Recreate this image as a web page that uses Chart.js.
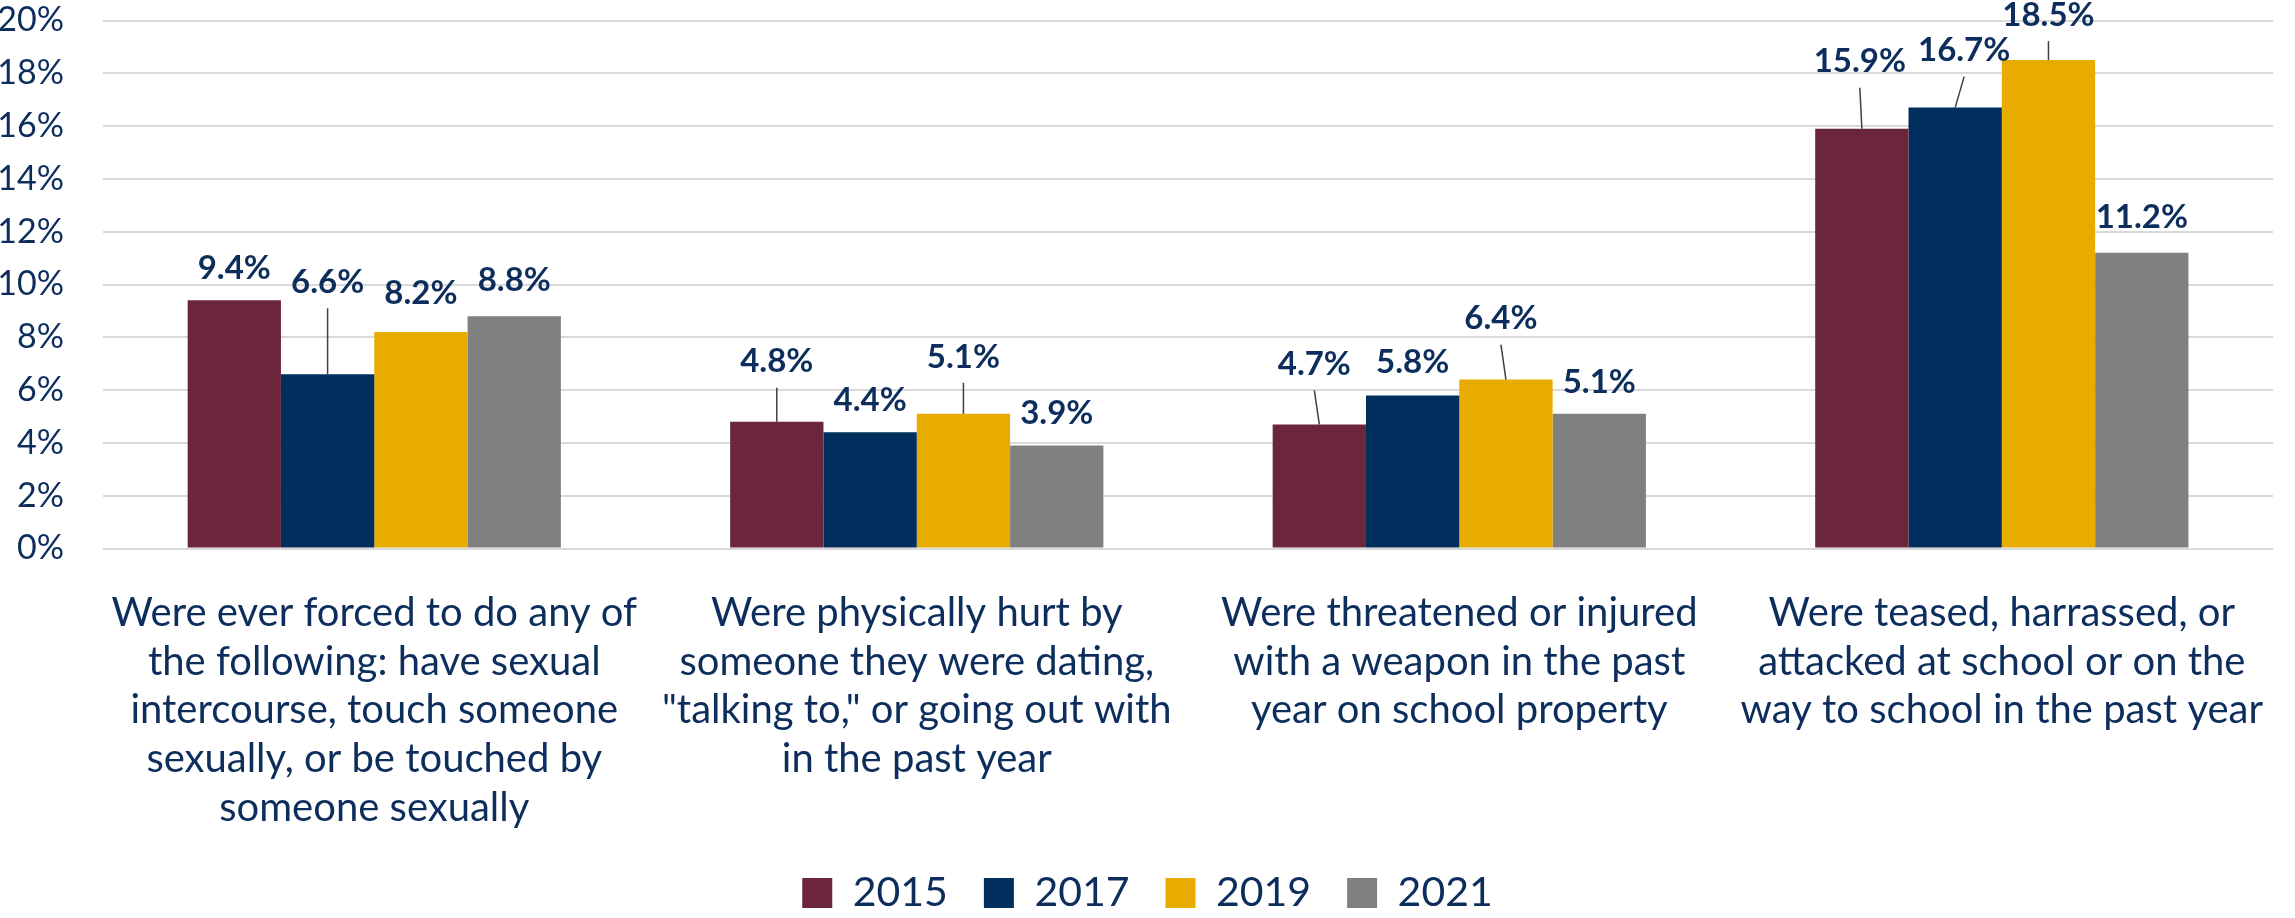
<!DOCTYPE html>
<html>
<head>
<meta charset="utf-8">
<script src="https://cdn.jsdelivr.net/npm/chart.js@4"></script>
<style>
  html, body { margin: 0; padding: 0; background: #fff; }
  #wrap { width: 2295px; height: 918px; position: relative; }
</style>
</head>
<body>
<div id="wrap"><canvas id="violenceChart"></canvas></div>
<script>
const categories = [
  ['Were ever forced to do any of', 'the following: have sexual', 'intercourse, touch someone', 'sexually, or be touched by', 'someone sexually'],
  ['Were physically hurt by', 'someone they were dating,', '"talking to," or going out with', 'in the past year'],
  ['Were threatened or injured', 'with a weapon in the past', 'year on school property'],
  ['Were teased, harrassed, or', 'attacked at school or on the', 'way to school in the past year']
];
const years = ['2015', '2017', '2019', '2021'];
const values2015 = [9.4, 4.8, 4.7, 15.9];
const values2017 = [6.6, 4.4, 5.8, 16.7];
const values2019 = [8.2, 5.1, 6.4, 18.5];
const values2021 = [8.8, 3.9, 5.1, 11.2];
const yTicks = [0, 2, 4, 6, 8, 10, 12, 14, 16, 18, 20];

const navy = '#0D2E5C';
const colors = ['#6C263C', '#002E5D', '#E8AB00', '#808080'];

// extra label placement (px) like the original: [dx, extra lift]
const labelNudge = [
  [[0, 0], [0, 28], [-5, 28], [-2, 35]],
  [[0, 60], [0, 0], [0, 1], [9, 25]],
  [[0, 7], [0, 25], [-5, 29], [0, 13]],
  [[0, 4], [0, 0], [0, 0], [0, 3]]
];

Chart.defaults.font.family = 'Lato, sans-serif';
Chart.defaults.color = navy;

const valueLabels = {
  id: 'valueLabels',
  afterDatasetsDraw(chart) {
    const ctx = chart.ctx;
    ctx.save();
    ctx.font = 'bold 33px Lato, sans-serif';
    ctx.fillStyle = navy;
    ctx.textAlign = 'center';
    ctx.textBaseline = 'middle';
    ctx.strokeStyle = '#404040';
    ctx.lineWidth = 1.5;
    chart.data.datasets.forEach((ds, i) => {
      const meta = chart.getDatasetMeta(i);
      meta.data.forEach((bar, j) => {
        const nudge = labelNudge[i][j];
        const lx = bar.x + nudge[0];
        const ly = bar.y - 32 - nudge[1];
        if (bar.y - (ly + 26) > 15) {
          ctx.beginPath();
          ctx.moveTo(lx, ly + 26);
          ctx.lineTo(bar.x, bar.y);
          ctx.stroke();
        }
        ctx.fillText(ds.data[j].toFixed(1) + '%', lx, ly);
      });
    });
    ctx.restore();
  }
};

const seriesValues = [values2015, values2017, values2019, values2021];

const ctx = document.getElementById('violenceChart').getContext('2d');
const violenceChart = new Chart(ctx, {
  type: 'bar',
  data: {
    labels: categories,
    datasets: years.map((y, i) => ({
      label: y,
      data: seriesValues[i],
      backgroundColor: colors[i],
      borderWidth: 0,
      categoryPercentage: 0.688,
      barPercentage: 1
    }))
  },
  options: {
    responsive: true,
    maintainAspectRatio: false,
    animation: false,
    layout: {
      padding: { top: 20.5, bottom: -5.5, left: 0, right: 0 }
    },
    plugins: {
      tooltip: { enabled: false },
      legend: {
        position: 'bottom',
        labels: {
          boxWidth: 30,
          boxHeight: 30,
          padding: 36,
          color: navy,
          font: { size: 41 }
        }
      }
    },
    scales: {
      x: {
        grid: { display: false },
        border: { display: false },
        ticks: {
          color: navy,
          padding: 32,
          maxRotation: 0,
          autoSkip: false,
          font: { size: 40, lineHeight: 1.22 }
        },
        afterFit(scale) { scale.height = 288; }
      },
      y: {
        min: 0,
        max: 20,
        afterBuildTicks(scale) { scale.ticks = yTicks.map(v => ({ value: v })); },
        grid: { color: '#D9D9D9', lineWidth: 2, drawTicks: true, tickLength: 39, tickColor: 'rgba(0,0,0,0)' },
        border: { display: false },
        ticks: {
          color: navy,
          padding: 0,
          font: { size: 34 },
          callback: v => v + '%'
        },
        afterFit(scale) { scale.width = 103; }
      }
    }
  },
  plugins: [valueLabels]
});
</script>
</body>
</html>
